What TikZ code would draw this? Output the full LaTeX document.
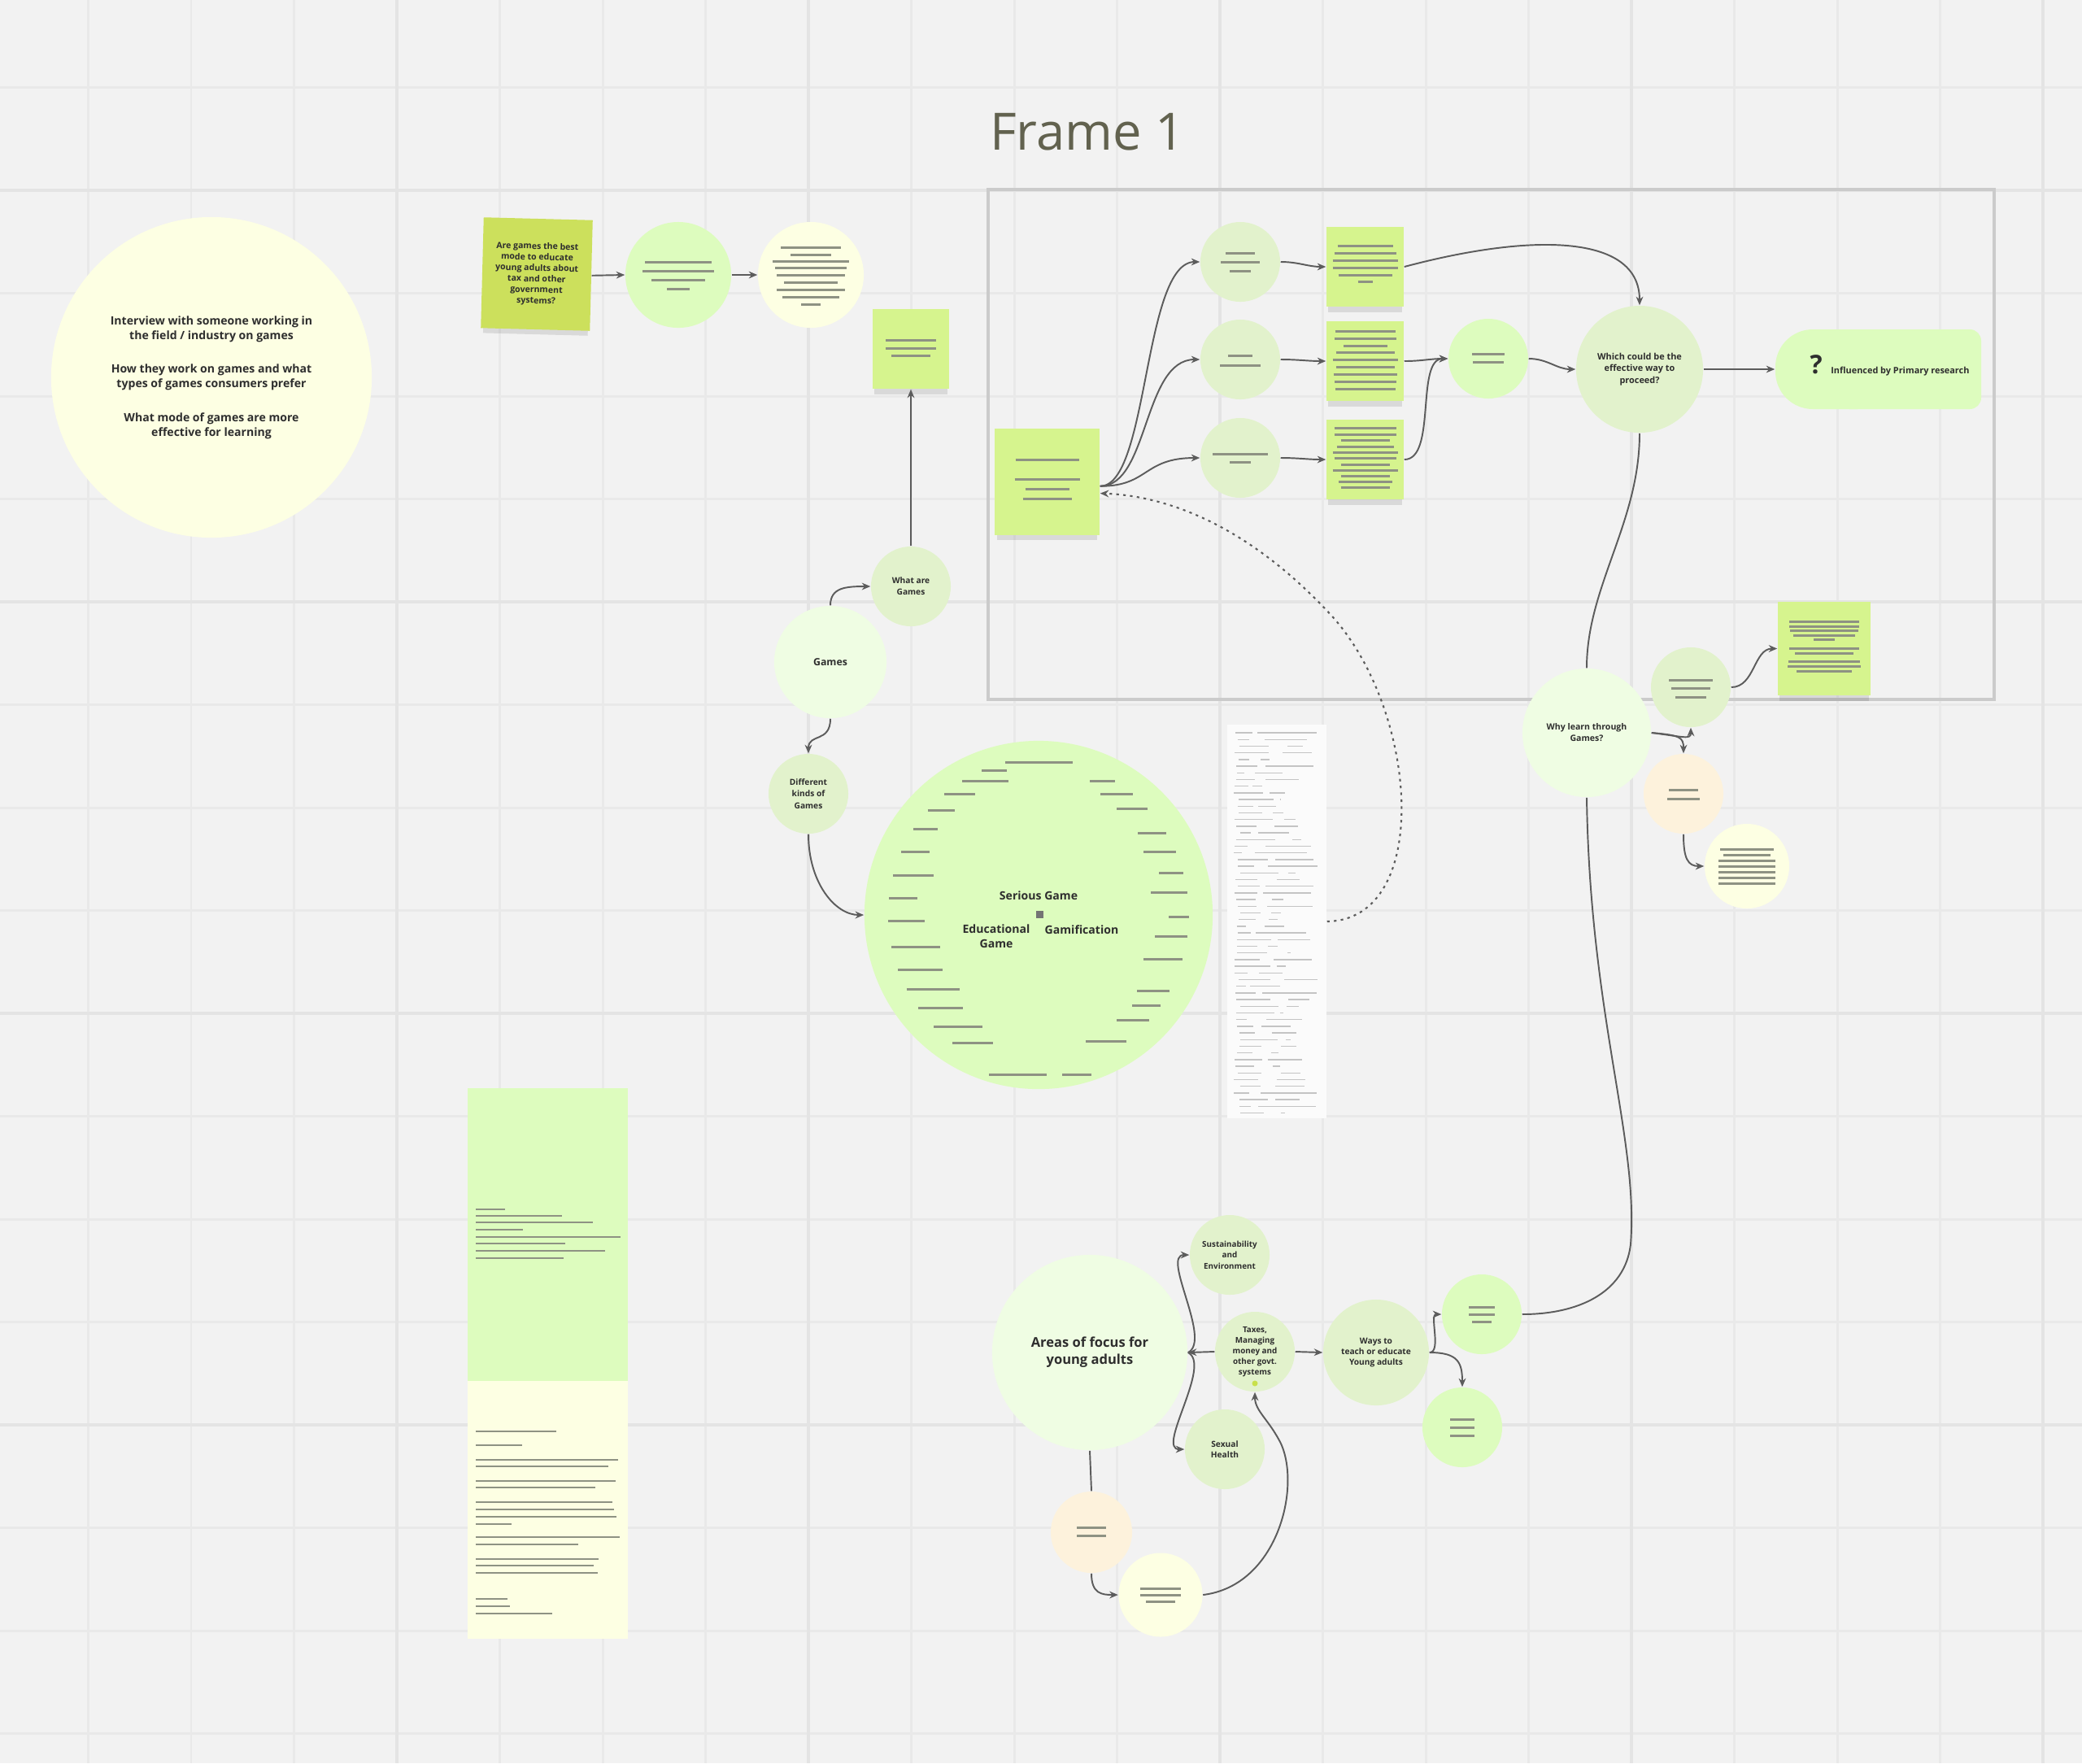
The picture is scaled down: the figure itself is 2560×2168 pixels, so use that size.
\documentclass[tikz,border=0pt]{standalone}
\usepackage{fontspec}
\setmainfont{Open Sans}
\usetikzlibrary{arrows.meta,calc,shadows}

\definecolor{bg}{HTML}{F2F2F2}
\definecolor{gridc}{HTML}{E9E9E9}
\definecolor{gridm}{HTML}{E4E4E4}
\definecolor{pyellow}{HTML}{FDFFE3}
\definecolor{pgreen}{HTML}{EFFDE3}
\definecolor{sage}{HTML}{E2F2CC}
\definecolor{lgreen}{HTML}{DDFCBE}
\definecolor{stickyA}{HTML}{CCE05C}
\definecolor{stickyB}{HTML}{D6F48E}
\definecolor{peach}{HTML}{FDF2DC}
\definecolor{txt}{HTML}{2E2E2E}
\definecolor{greek}{HTML}{8E9283}
\definecolor{conn}{HTML}{5C5C5C}
\definecolor{framec}{HTML}{CBCBCB}
\definecolor{titlec}{HTML}{62624F}
\definecolor{docc}{HTML}{FBFBFB}
\definecolor{scribc}{HTML}{C4C4C4}
\definecolor{dotc}{HTML}{C8E04A}

\newcommand{\fsz}[2]{\fontsize{#1}{#2}\selectfont}
\newcommand{\gk}[2]{\foreach \gy/\gw in {#2} {\draw[gline] ($(#1)+(-\gw,\gy)$) -- ++({2*\gw},0);}}

\begin{document}
\begin{tikzpicture}[x=0.01cm,y=-0.01cm,
  every node/.append style={text=txt, inner sep=0pt, align=center},
  circ/.style={circle, draw=none},
  sticky/.style={rectangle, draw=none,
     general shadow={shadow scale=0.96, shadow yshift=-2.6pt, opacity=0.10, fill=black},
     general shadow={shadow scale=0.9, shadow yshift=-1.6pt, opacity=0.12, fill=black}},
  arr/.style={draw=conn, line width=0.55pt, -{Stealth[length=3pt,width=2.5pt]}},
  ln/.style={draw=conn, line width=0.55pt},
  dotarr/.style={draw=conn, line width=0.6pt, dash pattern=on 0.9pt off 1.5pt, -{Stealth[length=3pt,width=2.5pt]}},
  gline/.style={draw=greek, line width=0.85pt},
  bline/.style={draw=greek, line width=0.7pt},
  scrib/.style={draw=scribc, line width=0.4pt},
  gridl/.style={draw=gridc, line width=0.85pt},
  gridM/.style={draw=gridm, line width=1.3pt},
  sm/.style={font=\fsz{3}{3.8}\bfseries}
]
\useasboundingbox (0,0) rectangle (2560,2168);
\fill[bg] (0,0) rectangle (2560,2168);

% grid
\foreach \k in {0,...,20}{
  \pgfmathsetmacro\gx{-18+126.5*\k}
  \draw[gridl] (\gx,0) -- (\gx,2168);
}
\foreach \k in {0,...,17}{
  \pgfmathsetmacro\gyl{-19+126.5*\k}
  \draw[gridl] (0,\gyl) -- (2560,\gyl);
}
\foreach \gx in {488,994,1500,2006,2512}{\draw[gridM] (\gx,0) -- (\gx,2168);}
\foreach \gyl in {234,740,1246,1752}{\draw[gridM] (0,\gyl) -- (2560,\gyl);}

% frame
\node[draw=framec, line width=1.1pt, minimum width=12.37cm, minimum height=6.27cm] (frame) at (1833.5,546.5) {};
\node[font=\fsz{18}{20}, text=titlec, anchor=base] (title) at (1337,184) {Frame 1};

% left big circle
\node[circ, fill=pyellow, minimum size=3.94cm, font=\fsz{4}{5.1}\bfseries] (bigY) at (260,464)
 {Interview with someone working in\\the field / industry on games\\[6.7pt]How they work on games and what\\types of games consumers prefer\\[6.7pt]What mode of games are more\\effective for learning};

% top-left chain
\node[sticky, fill=stickyA, minimum width=1.34cm, minimum height=1.36cm, rotate=-1.5, sm] (s1) at (660,337)
 {Are games the best\\mode to educate\\young adults about\\tax and other\\government\\systems?};
\node[circ, fill=lgreen, minimum size=1.30cm] (cA) at (834,338) {};
\node[circ, fill=pyellow, minimum size=1.30cm] (cB) at (997,338) {};

\node[sticky, fill=stickyB, minimum width=0.94cm, minimum height=0.98cm] (s2) at (1120,429) {};
\node[circ, fill=sage, minimum size=0.98cm, font=\fsz{2.9}{4}\bfseries] (whatare) at (1120,721) {What are\\Games};
\node[circ, fill=pgreen, minimum size=1.38cm, font=\fsz{3.5}{4}\bfseries] (games) at (1021,814) {Games};
\node[circ, fill=sage, minimum size=0.98cm, font=\fsz{2.9}{4.2}\bfseries] (diff) at (994,976) {Different\\kinds of\\Games};

% serious game circle
\node[circ, fill=lgreen, minimum size=4.28cm] (serious) at (1277,1125) {};
\node[font=\fsz{4}{5}\bfseries] (sgt) at (1277,1101) {Serious Game};
\node[rectangle, fill=conn!85, minimum size=0.09cm] (sq) at (1278,1124) {};
\node[font=\fsz{4}{5.2}\bfseries] (edu) at (1225,1151) {Educational\\Game};
\node[font=\fsz{4}{5}\bfseries] (gam) at (1330,1143) {Gamification};

% document
\node[rectangle, fill=docc, minimum width=1.22cm, minimum height=4.84cm] (doc) at (1570,1133) {};
\pgfmathsetseed{42}
\foreach \i in {0,...,57}{
  \pgfmathsetmacro\yy{901+\i*8.2}
  \pgfmathsetmacro\xa{1517+8*rnd}
  \pgfmathsetmacro\la{8+40*rnd}
  \pgfmathsetmacro\xb{\xa+\la+5+20*rnd}
  \pgfmathsetmacro\lb{(1622-\xb)*rnd}
  \draw[scrib] (\xa,\yy) -- ++(\la,0);
  \draw[scrib] (\xb,\yy) -- ++(\lb,0);
}

% frame contents
\node[sticky, fill=stickyB, minimum width=1.29cm, minimum height=1.31cm] (fs) at (1287.5,592.5) {};
\node[circ, fill=sage, minimum size=0.98cm] (f1) at (1525,322) {};
\node[circ, fill=sage, minimum size=0.98cm] (f2) at (1525,442) {};
\node[circ, fill=sage, minimum size=0.98cm] (f3) at (1525,563) {};
\node[sticky, fill=stickyB, minimum width=0.95cm, minimum height=0.98cm] (t1) at (1678.5,328) {};
\node[sticky, fill=stickyB, minimum width=0.95cm, minimum height=0.98cm] (t2) at (1678.5,444) {};
\node[sticky, fill=stickyB, minimum width=0.95cm, minimum height=0.98cm] (t3) at (1678.5,565) {};
\node[circ, fill=lgreen, minimum size=0.98cm] (fc) at (1830,441) {};
\node[circ, fill=sage, minimum size=1.56cm, font=\fsz{3.1}{4.1}\bfseries] (which) at (2016,454) {Which could be the\\effective way to\\proceed?};
\fill[lgreen, rounded corners=0.46cm] (2183,405) rectangle (2330,503);
\fill[lgreen, rounded corners=0.14cm] (2260,405) rectangle (2436,503);
\node[minimum width=2.53cm, minimum height=0.98cm] (pill) at (2309.5,454) {};
\node[anchor=west, font=\fsz{3.1}{4}\bfseries] (pilltxt) at (2225,449) {{\fsz{9}{9}\bfseries ?}\hspace{3pt}Influenced by Primary research};

% right side
\node[circ, fill=pgreen, minimum size=1.58cm, font=\fsz{3}{4}\bfseries] (why) at (1951,901) {Why learn through\\Games?};
\node[circ, fill=sage, minimum size=0.98cm] (r2079) at (2079,845) {};
\node[sticky, fill=stickyB, minimum width=1.14cm, minimum height=1.15cm] (rs) at (2243,797.5) {};
\node[circ, fill=peach, minimum size=0.98cm] (peachR) at (2070,976) {};
\node[circ, fill=pyellow, minimum size=1.04cm] (yellowR) at (2148,1065) {};

% bottom cluster
\node[circ, fill=pgreen, minimum size=2.40cm, font=\fsz{4.7}{6}\bfseries] (areas) at (1340,1663) {Areas of focus for\\young adults};
\node[circ, fill=sage, minimum size=0.98cm, font=\fsz{2.8}{3.8}\bfseries] (sust) at (1512,1543) {Sustainability\\and\\Environment};
\node[circ, fill=sage, minimum size=0.98cm, font=\fsz{2.8}{3.7}\bfseries] (taxes) at (1543,1662) {Taxes,\\Managing\\money and\\other govt.\\systems};
\node[circle, fill=dotc, minimum size=0.07cm] (tdot) at (1543,1701) {};
\node[circ, fill=sage, minimum size=0.98cm, font=\fsz{2.9}{3.8}\bfseries] (sexual) at (1506,1782) {Sexual\\Health};
\node[circ, fill=sage, minimum size=1.30cm, font=\fsz{2.9}{3.7}\bfseries] (ways) at (1692,1663) {Ways to\\teach or educate\\Young adults};
\node[circ, fill=lgreen, minimum size=0.98cm] (b1) at (1822,1616) {};
\node[circ, fill=lgreen, minimum size=0.98cm] (b2) at (1798,1755) {};
\node[circ, fill=peach, minimum size=1.00cm] (bpeach) at (1342,1884) {};
\node[circ, fill=pyellow, minimum size=1.03cm] (byellow) at (1427,1961) {};

% bottom-left tall card
\node[rectangle, fill=lgreen, minimum width=1.97cm, minimum height=3.60cm] (ngreen) at (673.5,1518) {};
\node[rectangle, fill=pyellow, minimum width=1.97cm, minimum height=3.17cm] (nyellow) at (673.5,1856.5) {};
\foreach \yy/\xe in {1487/621,1495/691,1503/729,1512/643,1521/763,1529/695,1538/744,1547/693}{
  \draw[bline] (585,\yy) -- (\xe,\yy);}
\foreach \yy/\xe in {1760/684,1777/642,1795/760,1803/748,1821/757,1829/732,1847/753,1856/755,1865/758,1874/629,1890/762,1899/711,1917/736,1925/730,1934/735,1966/624,1975/627,1984/679}{
  \draw[bline] (585,\yy) -- (\xe,\yy);}

% greeked text lines
\gk{cA}{-16/41,-5/44,6/33,17/14}
\gk{cB}{-34/37,-25/25,-17/47,-9/44,0/42,9/33,18/42,27/35,36/12}
\gk{s2}{-11/31,-1/31,8/24}
\gk{fs}{-27/39,-3/40,9/27,21/30}
\gk{f1}{-11/18,0/24,11/13}
\gk{f2}{-5/15,7/25}
\gk{f3}{-5/34,5/13}
\gk{t1}{-26/34,-17/38,-8/40,1/40,10/33,18/9}
\gk{t2}{-37/37,-28/38,-19/27,-11/36,-2/40,7/36,16/39,25/38,34/37}
\gk{t3}{-39/38,-31/38,-24/30,-16/35,-9/40,-2/38,6/30,13/40,20/30,27/33,34/30}
\gk{fc}{-6/20,4/19}
\gk{r2079}{-9/27,1/24,12/19}
\gk{rs}{-33/43,-27/43,-22/42,-16/38,-11/13,0/43,6/36,16/44,22/45,28/34}
\gk{peachR}{-5/18,6/20}
\gk{yellowR}{-21/33,-14/29,-7/35,0/35,7/35,14/35,21/35}
\gk{b1}{-9/16,0/16,9/12}
\gk{b2}{-10/15,0/15,10/15}
\gk{bpeach}{-6/18,4/18}
\gk{byellow}{-8/25,0/25,8/18}

\foreach \gy/\gl in {-178/31,-165/57,-149/38,-129/33,-106/30,-78/35,-49/50,-21/35,7/45,39/60,67/55,91/65,114/55,137/60,157/50}{
  \pgfmathsetmacro\gxl{1277-100*sqrt(1.95*1.95-(\gy/100)*(\gy/100))+10}
  \pgfmathsetmacro\gyy{1125+\gy}
  \draw[gline] (\gxl,\gyy) -- ++(\gl,0);}
\foreach \gy/\gl in {-165/31,-149/40,-131/38,-101/35,-78/40,-52/30,-28/45,2/25,26/40,54/48,93/40,111/35,129/40,155/50}{
  \pgfmathsetmacro\gxr{1277+100*sqrt(1.95*1.95-(\gy/100)*(\gy/100))-10}
  \pgfmathsetmacro\gyy{1125+\gy}
  \draw[gline] (\gxr,\gyy) -- ++(-\gl,0);}
\draw[gline] (1236,937) -- (1319,937);
\draw[gline] (1216,1321) -- (1287,1321);
\draw[gline] (1306,1321) -- (1342,1321);

% connectors
\draw[arr] (s1.east) -- (cA.west);
\draw[arr] (cA.east) -- (cB.west);
\draw[arr] (whatare.north) -- (s2.south);
\draw[arr] (games.north) .. controls +(0,-22) and +(-30,0) .. (whatare.west);
\draw[arr] (games.south) .. controls +(0,30) and +(0,-25) .. (diff.north);
\draw[arr] (diff.south) .. controls +(0,60) and +(-35,0) .. (serious.west);
\draw[dotarr] (doc.east) .. controls (1760,1131) and (1745,880) .. (1640,760) .. controls (1540,650) and (1440,610) .. ([yshift=-4pt]fs.east);

\draw[arr] ([yshift=-1.5pt]fs.east) .. controls +(60,0) and +(-70,0) .. (f1.west);
\draw[arr] ([yshift=-1.5pt]fs.east) .. controls +(60,0) and +(-70,0) .. (f2.west);
\draw[arr] ([yshift=-1.5pt]fs.east) .. controls +(60,0) and +(-70,0) .. (f3.west);
\draw[arr] (f1.east) to[out=0,in=180] (t1.west);
\draw[arr] (f2.east) to[out=0,in=180] (t2.west);
\draw[arr] (f3.east) to[out=0,in=180] (t3.west);
\draw[arr] (t1.east) .. controls +(150,-40) and +(0,-90) .. (which.north);
\draw[arr] (t2.east) to[out=0,in=180] (fc.west);
\draw[arr] (t3.east) .. controls +(40,0) and +(-40,0) .. (fc.west);
\draw[arr] (fc.east) to[out=0,in=180] (which.west);
\draw[arr] (which.east) -- (pill.west);
\draw[ln] (which.south) .. controls +(0,110) and +(0,-100) .. (why.north);

\draw[arr] (why.east) .. controls +(40,5) and +(0,15) .. (r2079.south);
\draw[arr] (why.east) .. controls +(35,3) and +(0,-20) .. (peachR.north);
\draw[arr] (r2079.east) to[out=0,in=180] (rs.west);
\draw[arr] (peachR.south) .. controls +(0,30) and +(-20,0) .. (yellowR.west);
\draw[ln] (why.south) .. controls (1955,1250) and (2015,1400) .. (2005,1530) .. controls (1998,1590) and (1940,1616) .. (b1.east);

\draw[arr] (ways.east) .. controls +(15,0) and +(-15,0) .. (b1.west);
\draw[arr] (ways.east) .. controls +(35,0) and +(0,-30) .. (b2.north);
\draw[arr] (taxes.east) -- (ways.west);
\draw[arr] (taxes.west) -- (areas.east);
\draw[arr] (areas.east) .. controls +(30,-15) and +(-35,0) .. (sust.west);
\draw[arr] (areas.east) .. controls +(30,15) and +(-35,0) .. (sexual.west);
\draw[ln] (areas.south) -- (bpeach.north);
\draw[arr] (bpeach.south) .. controls +(0,25) and +(-20,0) .. (byellow.west);
\draw[arr] (byellow.east) .. controls (1570,1950) and (1600,1830) .. (1575,1775) .. controls (1560,1745) and (1543,1735) .. (taxes.south);
\end{tikzpicture}
\end{document}
